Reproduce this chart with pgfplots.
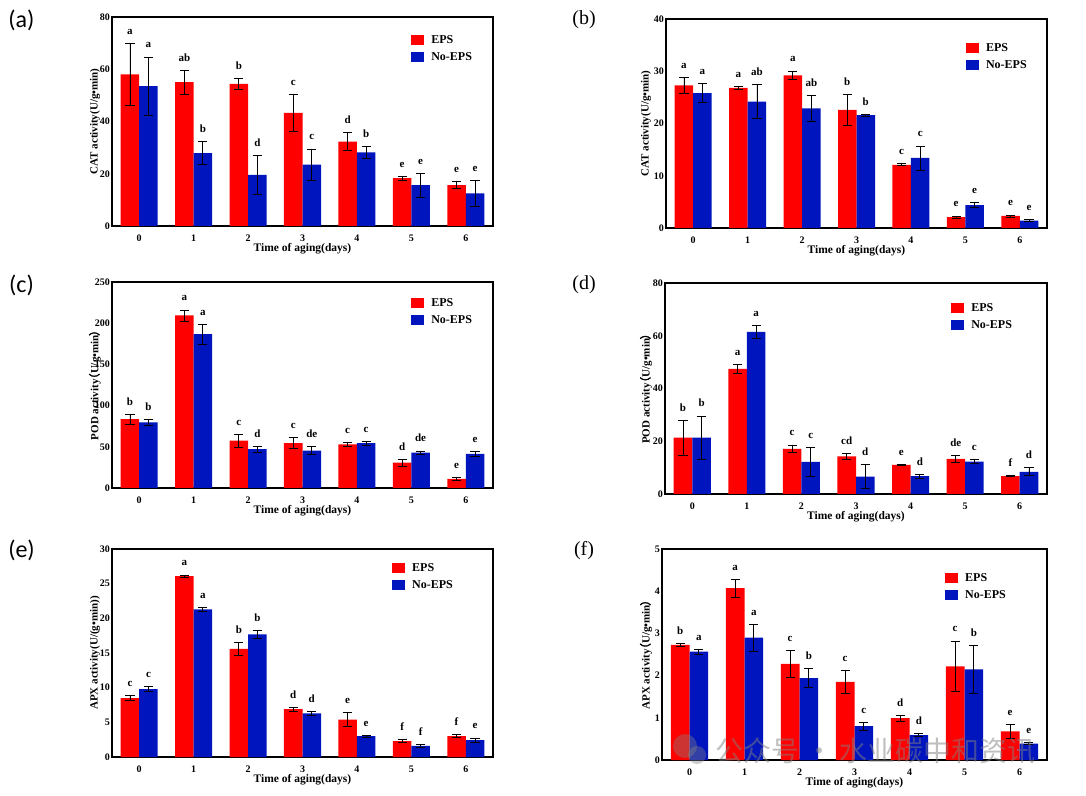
\documentclass[border=0pt]{standalone}
\usepackage{fontspec}
\setmainfont{Liberation Serif}
\newfontfamily\carlito{Carlito}
\newfontfamily\cjk[FakeBold=3]{Noto Sans CJK SC}
\newfontfamily\cjkw{Noto Sans CJK SC}
\usepackage{pgfplots}
\usepackage{pgfplotstable}
\pgfplotsset{compat=1.18}
\definecolor{epsred}{RGB}{255,0,0}
\definecolor{noblue}{RGB}{0,21,190}

\pgfplotstableread{
x eps epse leps noeps noepse lno
0 58.0 12.0 a  53.5 11.2 a
1 55.1 4.6  ab 27.9 4.4  b
2 54.4 2.1  b  19.6 7.5  d
3 43.3 7.0  c  23.5 6.0  c
4 32.3 3.4  d  28.2 2.2  b
5 18.3 0.8  e  15.6 4.5  e
6 15.6 1.3  e  12.5 5.0  e
}\tA
\pgfplotstableread{
x eps epse leps noeps noepse lno
0 27.3 1.5  a  25.8 1.8  a
1 26.8 0.3  a  24.2 3.2  ab
2 29.2 0.85 a  22.9 2.45 ab
3 22.6 2.9  b  21.6 0.2  b
4 12.1 0.2  c  13.4 2.3  c
5 2.1  0.2  e  4.4  0.45 e
6 2.3  0.2  e  1.4  0.15 e
}\tB
\pgfplotstableread{
x eps epse leps noeps noepse lno
0 83.6  6.0 b 79.5  4.0  b
1 209.4 6.7 a 186.7 12.2 a
2 57.6  7.9 c 47.1  3.5  d
3 54.4  6.7 c 45.5  5.0  de
4 52.8  2.3 c 54.4  2.2  c
5 30.8  4.2 d 43.0  2.0  de
6 11.0  1.6 e 41.4  3.3  e
}\tC
\pgfplotstableread{
x eps epse leps noeps noepse lno
0 21.4 6.6  b  21.4 8.2  b
1 47.4 1.7  a  61.5 2.5  a
2 17.1 1.5  c  12.2 5.6  c
3 14.3 1.2  cd 6.6  4.45 d
4 11.0 0.25 e  6.8  0.7  d
5 13.3 1.2  de 12.3 0.7  c
6 6.8  0.15 f  8.4  1.5  d
}\tD
\pgfplotstableread{
x eps epse leps noeps noepse lno
0 8.5  0.4  c 9.8  0.4  c
1 26.1 0.15 a 21.3 0.3  a
2 15.6 0.95 b 17.7 0.6  b
3 6.9  0.3  d 6.3  0.3  d
4 5.4  1.0  e 3.0  0.15 e
5 2.3  0.2  f 1.6  0.25 f
6 3.0  0.2  f 2.45 0.3  e
}\tE
\pgfplotstableread{
x eps epse leps noeps noepse lno
0 2.73 0.04  b 2.57 0.06 a
1 4.07 0.21  a 2.90 0.32 a
2 2.28 0.32  c 1.94 0.23 b
3 1.85 0.28  c 0.80 0.09 c
4 0.99 0.065 d 0.59 0.04 d
5 2.22 0.60  c 2.15 0.56 b
6 0.68 0.17  e 0.39 0.02 e
}\tF

\pgfplotsset{
  panel/.style={
    scale only axis, anchor=south west, width=381pt, height=209pt,
    xmin=-0.5, xmax=6.5, ymin=0, xtick={0,...,6},
    axis line style={line width=1.5pt, line join=miter},
    major tick length=0pt,
    tick label style={font=\bfseries\fontsize{10}{10}\selectfont},
    /pgf/number format/assume math mode=true,
    xticklabel style={yshift=-5.5pt},
    yticklabel style={xshift=1.5pt},
    xlabel={Time of aging(days)},
    every axis x label/.style={at={([yshift=-23pt]axis description cs:0.5,0)}, anchor=center, font=\bfseries\fontsize{11.5}{11.5}\selectfont},
    every axis y label/.style={at={([xshift=-17pt]axis description cs:0,0.5)}, anchor=center, rotate=90, font=\bfseries\fontsize{11}{11}\selectfont},
    legend cell align=left,
    legend style={draw=none, fill=none, inner sep=0pt, anchor=north west, row sep=7.2pt,
      font=\bfseries\fontsize{12}{12}\selectfont, nodes={inner sep=0pt, text depth=0pt},
      /tikz/every odd column/.append style={column sep=7pt}},
    legend image code/.code={\fill[##1, draw=none] (0pt,-5pt) rectangle (13pt,5pt);},
    clip=false,
  },
  errs/.style={
    /pgfplots/error bars/y dir=both,
    /pgfplots/error bars/y explicit,
    /pgfplots/error bars/error bar style={black, line width=0.8pt},
    /pgfplots/error bars/error mark options={black, line width=0.8pt, mark size=4.6pt, rotate=90}},
  letters/.style={draw=none, forget plot, nodes near coords, point meta=explicit symbolic,
    every node near coord/.append style={anchor=base, yshift=9pt, inner sep=0pt,
      font=\bfseries\fontsize{11}{11}\selectfont, text=black}},
}

\newcommand\panelplots[1]{%
  \addplot[ybar, bar width=0.34, bar shift=0pt, fill=epsred, draw=none, errs]
    table[x expr=\thisrow{x}-0.17, y=eps, y error=epse]{#1};
  \addlegendentry{EPS}
  \addplot[ybar, bar width=0.34, bar shift=0pt, fill=noblue, draw=none, errs]
    table[x expr=\thisrow{x}+0.17, y=noeps, y error=noepse]{#1};
  \addlegendentry{No-EPS}
  \addplot[letters] table[x expr=\thisrow{x}-0.17, y expr=\thisrow{eps}+\thisrow{epse}, meta=leps]{#1};
  \addplot[letters] table[x expr=\thisrow{x}+0.17, y expr=\thisrow{noeps}+\thisrow{noepse}, meta=lno]{#1};
}
\newcommand\lp{\kern-0.45em{\cjk\mdseries （}\kern-0.05em}
\newcommand\rp{\kern-0.05em{\cjk\mdseries ）}\kern-0.45em}

\begin{document}
\begin{tikzpicture}
\path[use as bounding box] (0pt,0pt) rectangle (1086pt,795pt);

% (a)
\begin{axis}[panel, at={(112pt,569pt)}, ymax=80, ytick distance=20,
  ylabel={CAT activity(U/g•min)},
  legend style={at={(0.785,0.917)}}]
\panelplots{\tA}
\end{axis}

% (b)
\begin{axis}[panel, at={(666pt,567pt)}, ymax=40, ytick distance=10,
  ylabel={CAT activity(U/g•min)},
  every axis y label/.append style={at={([xshift=-20pt]axis description cs:0,0.5)}},
  legend style={at={(0.787,0.888)}}]
\panelplots{\tB}
\end{axis}

% (c)
\begin{axis}[panel, at={(112pt,307pt)}, height=206pt, ymax=250, ytick distance=50,
  ylabel={POD activity\lp U/g•min\rp},
  legend style={at={(0.785,0.925)}}]
\panelplots{\tC}
\end{axis}

% (d)
\begin{axis}[panel, at={(665pt,301pt)}, width=382pt, height=211pt, ymax=80, ytick distance=20,
  ylabel={POD activity\lp U/g•min\rp},
  every axis y label/.append style={at={([xshift=-19pt]axis description cs:0,0.5)}},
  legend style={at={(0.749,0.908)}}]
\panelplots{\tD}
\end{axis}

% (e)
\begin{axis}[panel, at={(112pt,38pt)}, height=208pt, ymax=30, ytick distance=5,
  ylabel={APX activity(U/(g•min))},
  legend style={at={(0.735,0.936)}}]
\panelplots{\tE}
\end{axis}

% (f)
\begin{axis}[panel, at={(662pt,35pt)}, width=385pt, height=211pt, ymax=5, ytick distance=1,
  ylabel={APX activity\lp U/g•min\rp},
  every axis y label/.append style={at={([xshift=-16pt]axis description cs:0,0.5)}},
  legend style={at={(0.735,0.889)}}]
\panelplots{\tF}
\end{axis}

% panel labels
\node[font=\carlito\fontsize{24}{24}\selectfont] at (21.5pt,775pt) {(a)};
\node[font=\fontsize{20}{20}\selectfont] at (584pt,775pt) {(b)};
\node[font=\carlito\fontsize{24}{24}\selectfont] at (21.5pt,510pt) {(c)};
\node[font=\fontsize{20}{20}\selectfont] at (584pt,510pt) {(d)};
\node[font=\carlito\fontsize{24}{24}\selectfont] at (21.5pt,245pt) {(e)};
\node[font=\fontsize{20}{20}\selectfont] at (584pt,244pt) {(f)};

% watermark
\fill[gray, opacity=0.4] (685pt,49pt) circle (12pt);
\fill[gray, opacity=0.4] (697pt,40pt) circle (9pt);
\node[anchor=west, text=gray, opacity=0.5, font=\cjkw\fontsize{28}{28}\selectfont, inner sep=0pt] at (715pt,44pt) {公众号 · 水业碳中和资讯};
\end{tikzpicture}
\end{document}
